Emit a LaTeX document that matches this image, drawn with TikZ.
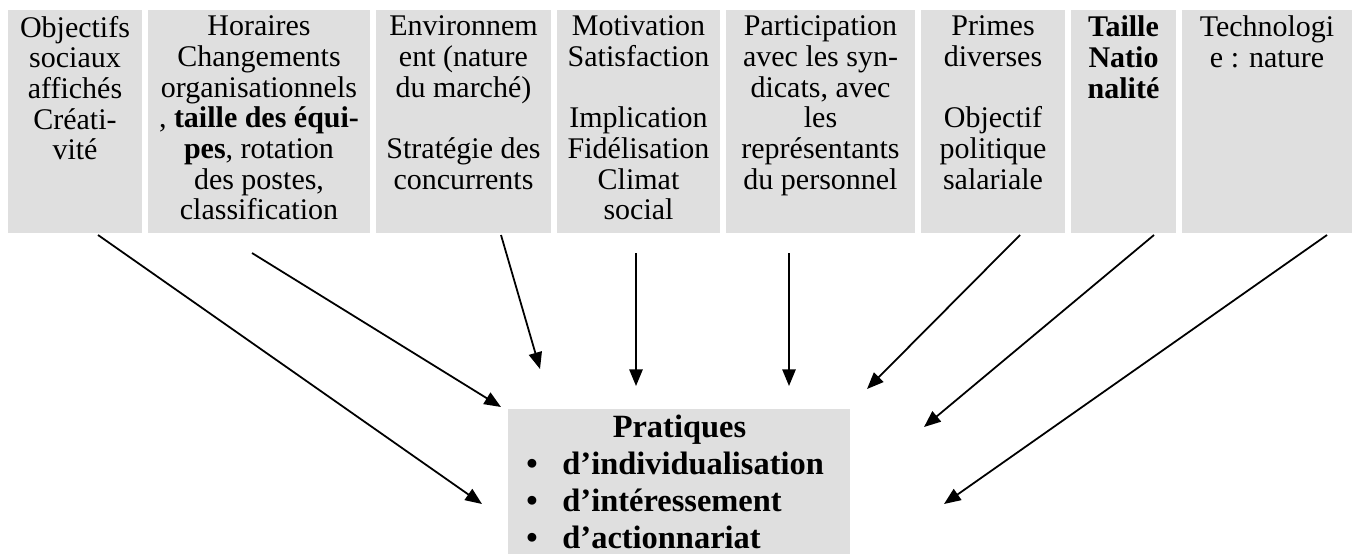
\documentclass[tikz,border=0pt]{standalone}
\usepackage{fontspec}
\setmainfont{Liberation Serif}
\usepackage{xcolor}
\usetikzlibrary{arrows.meta}
\definecolor{boxgray}{RGB}{223,223,223}

\tikzset{
  factor/.style={fill=boxgray, inner sep=0pt, anchor=north, minimum height=100.2pt,
    font=\fontsize{13.5}{13.8}\selectfont},
  influence/.style={-{Triangle[length=7.5pt,width=6pt]}, line width=0.8pt},
}

\begin{document}
\begin{tikzpicture}[x=0.45pt, y=-0.45pt]
\useasboundingbox (0,0) rectangle (1352,553);

% les facteurs
\node[factor, minimum width=60.3pt] (objectifs) at (75,10) {%
\begin{minipage}[t][100.2pt][t]{58pt}
\centering\vspace*{2.5pt}
Objectifs\\sociaux\\affichés\\Créati-\\vité
\end{minipage}};
\node[factor, minimum width=99.9pt] (horaires) at (259,10) {%
\begin{minipage}[t][100.2pt][t]{97pt}
\centering\vspace*{2.5pt}
Horaires\\Changements\\organisationnels\\, \textbf{taille des équi-}\\\textbf{pes}, rotation\\des postes,\\classification
\end{minipage}};
\node[factor, minimum width=78.75pt] (environnement) at (463.5,10) {%
\begin{minipage}[t][100.2pt][t]{76pt}
\centering\vspace*{2.5pt}
Environnem\\ent (nature\\du marché)\\[13.8pt]Stratégie des\\concurrents
\end{minipage}};
\node[factor, minimum width=73.35pt] (motivation) at (638.5,10) {%
\begin{minipage}[t][100.2pt][t]{71pt}
\centering\vspace*{2.5pt}
Motivation\\Satisfaction\\[13.8pt]Implication\\Fidélisation\\Climat\\social
\end{minipage}};
\node[factor, minimum width=85.05pt] (participation) at (820.5,10) {%
\begin{minipage}[t][100.2pt][t]{83pt}
\centering\vspace*{2.5pt}
Participation\\avec les syn-\\dicats, avec\\les\\représentants\\du personnel
\end{minipage}};
\node[factor, minimum width=64.8pt] (primes) at (993,10) {%
\begin{minipage}[t][100.2pt][t]{62pt}
\centering\vspace*{2.5pt}
Primes\\diverses\\[13.8pt]Objectif\\politique\\salariale
\end{minipage}};
\node[factor, minimum width=47.25pt] (taille) at (1123.5,10) {%
\begin{minipage}[t][100.2pt][t]{45pt}
\centering\vspace*{2.5pt}
\textbf{Taille}\\\textbf{Natio}\\\textbf{nalité}
\end{minipage}};
\node[factor, minimum width=76.5pt] (technologie) at (1267,10) {%
\begin{minipage}[t][100.2pt][t]{74pt}
\centering\vspace*{2.5pt}
Technologi\\e : nature
\end{minipage}};

% les pratiques
\node[factor, anchor=north west, minimum width=153.9pt, minimum height=70pt] (pratiques) at (508,409) {%
\begin{minipage}[t][70pt][t]{153.9pt}
\fontsize{14.6}{16.6}\selectfont\bfseries\vspace*{2.5pt}
{\centering Pratiques\par}
\makebox[24.3pt][l]{\hspace*{8.1pt}\textbullet}d’individualisation\par
\makebox[24.3pt][l]{\hspace*{8.1pt}\textbullet}d’intéressement\par
\makebox[24.3pt][l]{\hspace*{8.1pt}\textbullet}d’actionnariat\par
\end{minipage}};

% les fleches
\coordinate (s1) at (98,235);   \coordinate (e1) at (482,504);
\coordinate (s2) at (252,253);  \coordinate (e2) at (501,407);
\coordinate (s3) at (501,235);  \coordinate (e3) at (540,369);
\coordinate (s4) at (636,253);  \coordinate (e4) at (636,386);
\coordinate (s5) at (789,253);  \coordinate (e5) at (789,386);
\coordinate (s6) at (1020,235); \coordinate (e6) at (867,389);
\coordinate (s7) at (1154,235); \coordinate (e7) at (924,427);
\coordinate (s8) at (1327,235); \coordinate (e8) at (944,504);
\foreach \i in {1,...,8}
  \draw[influence] (s\i) -- (e\i);
\end{tikzpicture}
\end{document}
